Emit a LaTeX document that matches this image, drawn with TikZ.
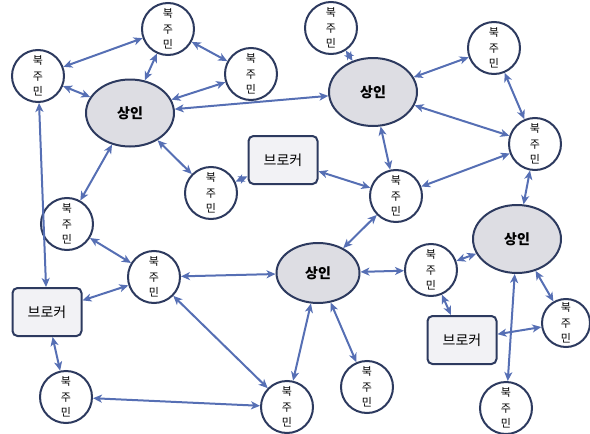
\documentclass[tikz,border=0pt]{standalone}
\usepackage{fontspec}
\setmainfont{Noto Sans CJK KR}
\usetikzlibrary{shapes.geometric,arrows.meta}

\definecolor{arrowblue}{RGB}{86,111,180}
\definecolor{edgedark}{RGB}{45,58,95}
\definecolor{merchantgray}{RGB}{221,221,227}
\definecolor{brokergray}{RGB}{242,242,245}

\begin{document}
\begin{tikzpicture}
[
    x = 1pt, y = -1pt,
    resident/.style = {circle,
                       minimum size=52pt,
                       inner sep=0pt,
                       draw=edgedark,
                       line width=2pt,
                       fill=white,
                       align=center,
                       font=\fontsize{11}{15.5}\selectfont},
    merchant/.style = {ellipse,
                       minimum width=88pt,
                       minimum height=68pt,
                       draw=edgedark,
                       line width=2pt,
                       fill=merchantgray,
                       font=\fontsize{14}{16}\selectfont\bfseries},
    broker/.style   = {rectangle,
                       rounded corners=5pt,
                       minimum width=69pt,
                       minimum height=48pt,
                       draw=edgedark,
                       line width=2pt,
                       fill=brokergray,
                       font=\fontsize{14}{16}\selectfont},
    arr/.style      = {line width=2pt,
                       draw=arrowblue,
                       {Stealth[length=9pt,width=8pt,inset=2.5pt]}-{Stealth[length=9pt,width=8pt,inset=2.5pt]}}
]
\useasboundingbox (0,0) rectangle (590,434);

% merchants
\node (m1) [merchant, minimum width=88pt, minimum height=67pt] at (130,113) {
상인
};

\node (m2) [merchant] at (373,92) {
상인
};

\node (m3) [merchant] at (517,239) {
상인
};

\node (m4) [merchant, minimum width=83pt, minimum height=60pt] at (318,273) {
상인
};

% brokers
\node (b1) [broker] at (283,160) {
브로커
};

\node (b2) [broker] at (462,340) {
브로커
};

\node (b3) [broker] at (47,312) {
브로커
};

% residents
\node (n1) [resident] at (38,76) {
북\\주\\민
};

\node (n2) [resident] at (168,29) {
북\\주\\민
};

\node (n3) [resident] at (251,74) {
북\\주\\민
};

\node (n4) [resident] at (211,193) {
북\\주\\민
};

\node (n5) [resident] at (331,28) {
북\\주\\민
};

\node (n6) [resident] at (494,48) {
북\\주\\민
};

\node (n7) [resident] at (535,144) {
북\\주\\민
};

\node (n8) [resident] at (396,196) {
북\\주\\민
};

\node (n9) [resident] at (431,270) {
북\\주\\민
};

\node (n10) [resident, minimum size=48pt] at (566,323) {
북\\주\\민
};

\node (n11) [resident] at (506,408) {
북\\주\\민
};

\node (n12) [resident] at (367,387) {
북\\주\\민
};

\node (n13) [resident] at (287,407) {
북\\주\\민
};

\node (n14) [resident] at (66,397) {
북\\주\\민
};

\node (n15) [resident] at (154,277) {
북\\주\\민
};

\node (n16) [resident] at (67,224) {
북\\주\\민
};

\draw[arr] (n1) -- (n2);
\draw[arr] (n2) -- (n3);
\draw[arr] (n2) -- (m1);
\draw[arr] (n1) -- (m1);
\draw[arr] (n3) -- (m1);
\draw[arr] (m1) -- (m2);
\draw[arr] (m1) -- (n4);
\draw[arr] (n4) -- (b1);
\draw[arr] (m1) -- (n16);
\draw[arr] (n1) -- (b3);
\draw[arr] (n5) -- (m2);
\draw[arr] (n6) -- (m2);
\draw[arr] (n6) -- (n7);
\draw[arr] (n7) -- (m2);
\draw[arr] (m2) -- (n8);
\draw[arr] (b1) -- (n8);
\draw[arr] (n8) -- (n7);
\draw[arr] (n7) -- (m3);
\draw[arr] (n8) -- (m4);
\draw[arr] (n16) -- (n15);
\draw[arr] (n15) -- (b3);
\draw[arr] (n15) -- (m4);
\draw[arr] (n15) -- (n13);
\draw[arr] (b3) -- (n14);
\draw[arr] (n14) -- (n13);
\draw[arr] (m4) -- (n13);
\draw[arr] (m4) -- (n12);
\draw[arr] (m4) -- (n9);
\draw[arr] (n9) -- (m3);
\draw[arr] (n9) -- (b2);
\draw[arr] (m3) -- (n10);
\draw[arr] (n10) -- (b2);
\draw[arr] (m3) -- (n11);

\end{tikzpicture}
\end{document}
